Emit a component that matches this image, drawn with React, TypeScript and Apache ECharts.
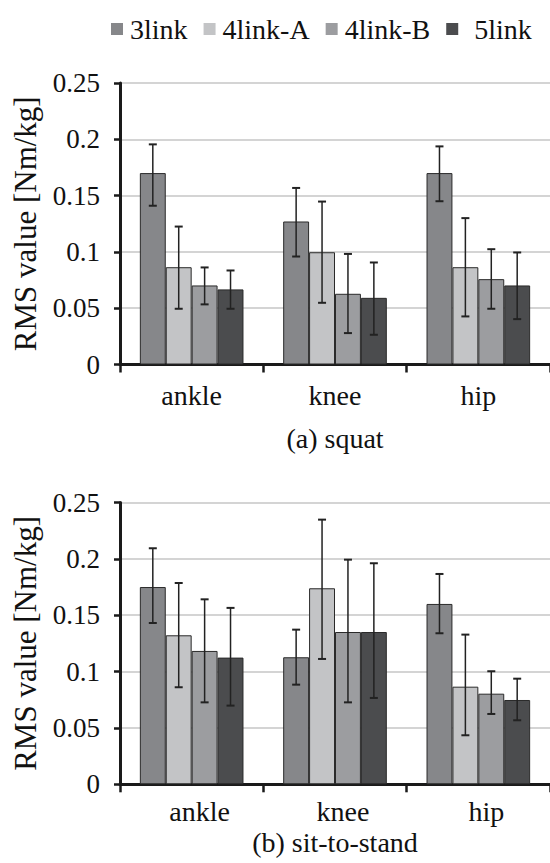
import React, { useEffect, useRef } from "react";
import * as echarts from "echarts";

const categories = ["ankle", "knee", "hip"];
const seriesNames = ["3link", "4link-A", "4link-B", "5link"];
const colors = ["#86878a", "#c3c4c6", "#9c9da0", "#4b4c4e"];

// (a) squat — means
const squat3link = [0.170, 0.127, 0.170];
const squat4linkA = [0.0864, 0.0997, 0.0864];
const squat4linkB = [0.0702, 0.0628, 0.0758];
const squat5link = [0.0667, 0.0592, 0.0702];
// (a) squat — error bar upper / lower ends
const squat3linkHi = [0.1955, 0.1568, 0.1937];
const squat3linkLo = [0.141, 0.0959, 0.145];
const squat4linkAHi = [0.1225, 0.1447, 0.130];
const squat4linkALo = [0.0495, 0.0548, 0.0427];
const squat4linkBHi = [0.0862, 0.0982, 0.1024];
const squat4linkBLo = [0.0534, 0.0279, 0.0495];
const squat5linkHi = [0.0835, 0.0906, 0.0995];
const squat5linkLo = [0.0495, 0.0264, 0.0403];

// (b) sit-to-stand — means
const sts3link = [0.175, 0.1127, 0.160];
const sts4linkA = [0.1322, 0.1739, 0.0866];
const sts4linkB = [0.1183, 0.1351, 0.0804];
const sts5link = [0.1124, 0.1351, 0.0748];
// (b) sit-to-stand — error bar upper / lower ends
const sts3linkHi = [0.2094, 0.1372, 0.1866];
const sts3linkLo = [0.1431, 0.0884, 0.134];
const sts4linkAHi = [0.1786, 0.2348, 0.1328];
const sts4linkALo = [0.0861, 0.1112, 0.0435];
const sts4linkBHi = [0.1641, 0.1993, 0.1003];
const sts4linkBLo = [0.0727, 0.0727, 0.0624];
const sts5linkHi = [0.1565, 0.1961, 0.0937];
const sts5linkLo = [0.0698, 0.0766, 0.0568];

const yTicks = { min: 0, max: 0.25, interval: 0.05 };

const FONT = "Liberation Serif";
const GAP = 0.277;

export default function App() {
  const ref = useRef<HTMLDivElement>(null);

  useEffect(() => {
    if (!ref.current) return;
    const chart = echarts.init(ref.current, undefined, { renderer: "svg" });

    const panels = [
      {
        name: "(a) squat",
        nameGap: 60,
        labelMargin: 17,
        labelPad: [0, 0, 0, 0],
        means: [squat3link, squat4linkA, squat4linkB, squat5link],
        his: [squat3linkHi, squat4linkAHi, squat4linkBHi, squat5linkHi],
        los: [squat3linkLo, squat4linkALo, squat4linkBLo, squat5linkLo],
      },
      {
        name: "(b) sit-to-stand",
        nameGap: 44,
        labelMargin: 13,
        labelPad: [0, 0, 0, 16],
        means: [sts3link, sts4linkA, sts4linkB, sts5link],
        his: [sts3linkHi, sts4linkAHi, sts4linkBHi, sts5linkHi],
        los: [sts3linkLo, sts4linkALo, sts4linkBLo, sts5linkLo],
      },
    ];

    const grids = [
      { left: 120, top: 83, width: 437, height: 281.5 },
      { left: 120, top: 502.5, width: 437, height: 281.8 },
    ];

    const xAxes = panels.map((p, i) => ({
      type: "category",
      gridIndex: i,
      data: categories,
      name: p.name,
      nameLocation: "middle",
      nameGap: p.nameGap,
      nameTextStyle: { fontFamily: FONT, fontSize: 28, color: "#111" },
      axisLine: { lineStyle: { color: "#1a1a1a", width: 3 } },
      axisTick: { show: true, length: 8, lineStyle: { color: "#1a1a1a", width: 2.5 } },
      axisLabel: {
        fontFamily: FONT,
        fontSize: 28,
        color: "#111",
        margin: p.labelMargin,
        padding: p.labelPad,
      },
      splitLine: { show: false },
    }));

    const yAxes = panels.map((_, i) => ({
      type: "value",
      gridIndex: i,
      min: yTicks.min,
      max: yTicks.max,
      interval: yTicks.interval,
      name: "RMS value [Nm/kg]",
      nameLocation: "middle",
      nameRotate: 90,
      nameGap: 79,
      nameTextStyle: { fontFamily: FONT, fontSize: 31, color: "#111" },
      axisLine: { show: true, lineStyle: { color: "#1a1a1a", width: 3 } },
      axisTick: { show: true, length: 6, lineStyle: { color: "#1a1a1a", width: 2.5 } },
      axisLabel: { fontFamily: FONT, fontSize: 27, color: "#111", margin: 20 },
      splitLine: { show: true, lineStyle: { color: "#c6c6c6", width: 1.5 } },
    }));

    const series: any[] = [];
    panels.forEach((p, gi) => {
      seriesNames.forEach((sn, si) => {
        series.push({
          type: "bar",
          name: sn,
          xAxisIndex: gi,
          yAxisIndex: gi,
          data: p.means[si],
          barGap: "0%",
          barCategoryGap: GAP * 100 + "%",
          itemStyle: { color: colors[si], borderColor: "#2a2a2a", borderWidth: 1 },
          z: 2,
        });
      });
      const errData: number[][] = [];
      seriesNames.forEach((_, si) => {
        categories.forEach((_, ci) => {
          errData.push([ci, p.los[si][ci], p.his[si][ci], si]);
        });
      });
      series.push({
        type: "custom",
        xAxisIndex: gi,
        yAxisIndex: gi,
        data: errData,
        z: 5,
        silent: true,
        renderItem: (params: any, api: any) => {
          const ci = api.value(0);
          const lo = api.value(1);
          const hi = api.value(2);
          const si = api.value(3);
          const c = api.coord([ci, 0]);
          const bw = api.size([1, 0])[0];
          const gw = bw * (1 - GAP);
          const b = gw / 4;
          const x = c[0] - gw / 2 + (si + 0.5) * b;
          const yHi = api.coord([ci, hi])[1];
          const yLo = api.coord([ci, lo])[1];
          const cap = 4;
          const style = { stroke: "#222", lineWidth: 1.5 };
          return {
            type: "group",
            children: [
              { type: "line", shape: { x1: x, y1: yHi, x2: x, y2: yLo }, style },
              { type: "line", shape: { x1: x - cap, y1: yHi, x2: x + cap, y2: yHi }, style: { stroke: "#222", lineWidth: 2 } },
              { type: "line", shape: { x1: x - cap, y1: yLo, x2: x + cap, y2: yLo }, style: { stroke: "#222", lineWidth: 2 } },
            ],
          };
        },
      });
    });

    chart.setOption({
      animation: false,
      backgroundColor: "#ffffff",
      textStyle: { fontFamily: FONT },
      legend: {
        left: 106,
        top: 10,
        itemWidth: 12,
        itemHeight: 12,
        itemGap: 16,
        icon: "rect",
        itemStyle: { borderWidth: 0 },
        textStyle: { fontFamily: FONT, fontSize: 28, color: "#111", padding: [0, 0, 0, 2] },
        data: seriesNames.map((n, i) =>
          i === 3
            ? { name: n, textStyle: { padding: [0, 0, 0, 11] } }
            : { name: n }
        ),
      },
      grid: grids,
      xAxis: xAxes,
      yAxis: yAxes,
      series,
    });

    return () => chart.dispose();
  }, []);

  return (
    <div
      ref={ref}
      style={{ position: "absolute", left: 0, top: 0, width: 550, height: 863 }}
    />
  );
}
